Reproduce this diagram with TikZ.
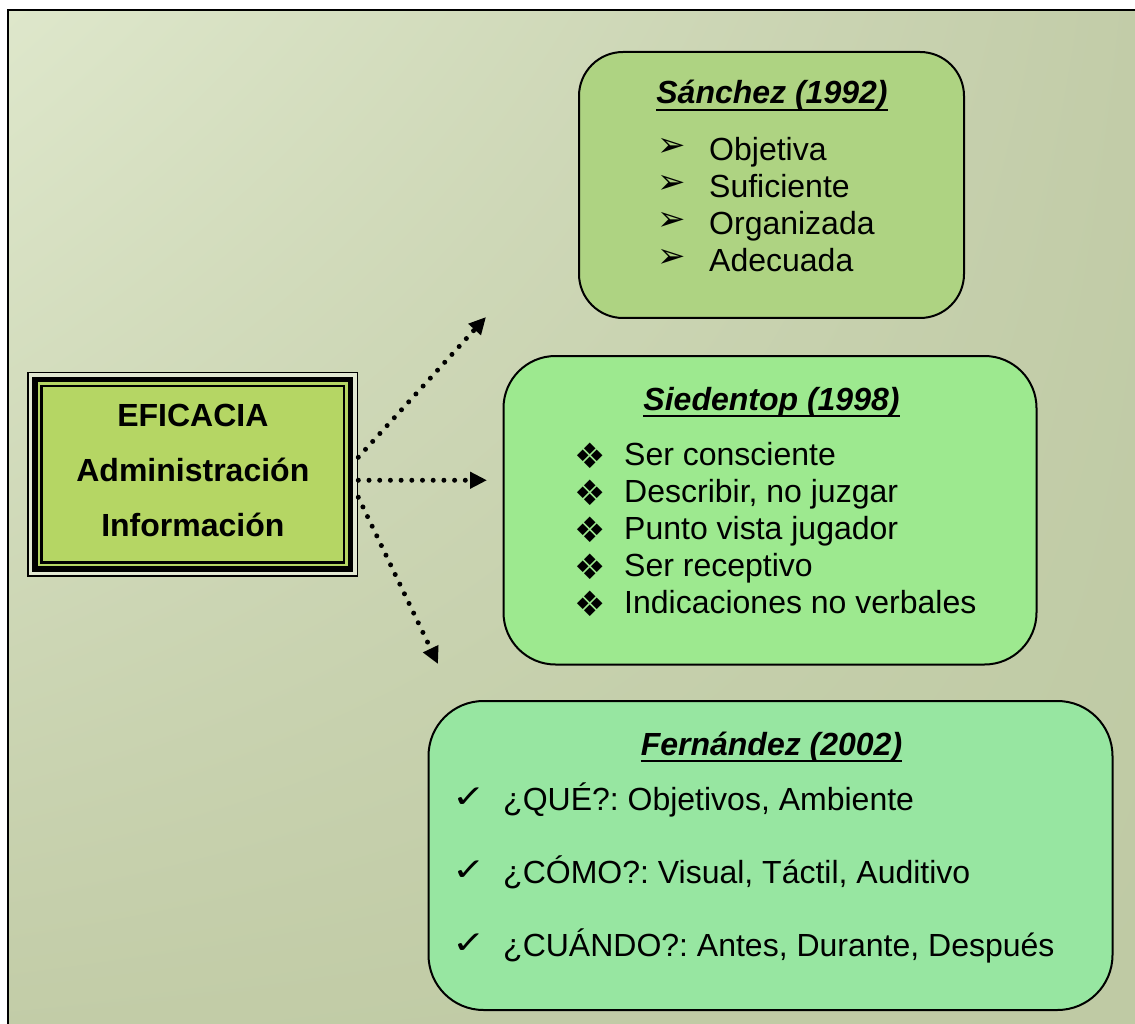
\documentclass[tikz,border=0pt]{standalone}
\usepackage{fontspec}
\setmainfont{Liberation Sans}
\newfontfamily\dingfont{DejaVu Sans}
\usetikzlibrary{arrows.meta,shadings}
\frenchspacing
\definecolor{bgTL}{HTML}{DEE7CB}
\definecolor{bgTR}{HTML}{C2CCA8}
\definecolor{bgBL}{HTML}{C2CCA7}
\definecolor{bgBR}{HTML}{BFCAA4}
\definecolor{maingreen}{HTML}{B5D664}
\definecolor{gapcol}{HTML}{E2E8D2}
\definecolor{sanfill}{HTML}{AED382}
\definecolor{siefill}{HTML}{9DE98F}
\definecolor{ferfill}{HTML}{97E6A1}
\tikzset{
  rbox/.style={draw=black, line width=2pt, inner sep=0pt},
  ttl/.style={inner sep=0pt, anchor=base, font=\fontsize{32}{37}\selectfont\bfseries\itshape},
  itm/.style={inner sep=0pt, anchor=base west, font=\fontsize{32}{37}\selectfont\frenchspacing},
  uline/.style={line width=2.4pt},
  dotarrow/.style={line width=5pt, line cap=round, dash pattern=on 0pt off 10.7pt,
    -{Triangle[length=17pt,width=16pt]}}
}
\newcommand{\bulA}{\makebox[47pt][l]{\hspace*{-5pt}\raisebox{4pt}{\dingfont\fontsize{34}{34}\selectfont ➢}}}
\newcommand{\bulB}{\makebox[44pt][l]{\hspace*{-6pt}\raisebox{-3pt}{\dingfont\fontsize{35}{35}\selectfont ❖}}}
\newcommand{\bulC}{\makebox[46pt][l]{\hspace*{-5pt}\raisebox{3pt}{\scalebox{1}[0.78]{\dingfont\fontsize{40}{40}\selectfont ✓}}}}
\begin{document}
\begin{tikzpicture}[x=1pt,y=-1pt]
\useasboundingbox (0,0) rectangle (1135,1024);
\clip (0,0) rectangle (1135,1024);
% background
\shade[upper left=bgTL, upper right=bgTR, lower left=bgBL, lower right=bgBR] (7.5,10.5) rectangle (1140,1030);
\draw[line width=2pt] (7.5,1030) -- (7.5,10.5) -- (1140,10.5);
% main framed box decorations
\fill[gapcol] (28.2,372.5) rectangle (357.5,576);
\draw[line width=5.5pt, fill=maingreen] (35.2,379.5) rectangle (350.5,569);
\draw[line width=2.6pt] (41.7,386) rectangle (344,562.5);
\node[draw, line width=1.6pt, inner sep=0pt, minimum width=329.3pt, minimum height=203.5pt,
      align=center, font=\fontsize{32}{55}\selectfont\bfseries] (main) at (192.85,474.25)
  {EFICACIA\\Administración\\Información\rule[-7.5pt]{0pt}{0pt}};
% rounded boxes
\node[rbox, fill=sanfill, minimum width=385pt, minimum height=266pt, rounded corners=44pt] (sanchez) at (771.5,185) {};
\node[rbox, fill=siefill, minimum width=533pt, minimum height=308.5pt, rounded corners=52pt] (siedentop) at (770,510.25) {};
\node[rbox, fill=ferfill, minimum width=684pt, minimum height=309pt, rounded corners=55pt] (fernandez) at (770.5,855.5) {};
% Sanchez
\node[ttl] (t1) at (772,104) {Sánchez (1992)};
\draw[uline] ([yshift=-6pt]t1.base west) -- ([yshift=-6pt]t1.base east);
\node[itm] (s1) at (662,160.5) {\bulA Objetiva};
\node[itm] (s2) at (662,197.5) {\bulA Suficiente};
\node[itm] (s3) at (662,234.5) {\bulA Organizada};
\node[itm] (s4) at (662,271.5) {\bulA Adecuada};
% Siedentop
\node[ttl] (t2) at (771.5,410) {Siedentop (1998)};
\draw[uline] ([yshift=-6pt]t2.base west) -- ([yshift=-6pt]t2.base east);
\node[itm] (d1) at (580,465) {\bulB Ser consciente};
\node[itm] (d2) at (580,502) {\bulB Describir, no juzgar};
\node[itm] (d3) at (580,539) {\bulB Punto vista jugador};
\node[itm] (d4) at (580,576) {\bulB Ser receptivo};
\node[itm] (d5) at (580,613) {\bulB Indicaciones no verbales};
% Fernandez
\node[ttl] (t3) at (771.5,755) {Fernández (2002)};
\draw[uline] ([yshift=-6pt]t3.base west) -- ([yshift=-6pt]t3.base east);
\node[itm] (f1) at (457,810) {\bulC ¿QUÉ?: Objetivos, Ambiente};
\node[itm] (f2) at (457,883) {\bulC ¿CÓMO?: Visual, Táctil, Auditivo};
\node[itm] (f3) at (457,956) {\bulC ¿CUÁNDO?: Antes, Durante, Después};
% arrows
\coordinate (e1) at (486,317);
\coordinate (e2) at (487,480.25);
\coordinate (e3) at (438,664);
\draw[dotarrow] ([yshift=17pt]main.east) -- (e1);
\draw[dotarrow] ([yshift=-6pt]main.east) -- (e2);
\draw[dotarrow] ([yshift=-23pt]main.east) -- (e3);
\end{tikzpicture}
\end{document}
